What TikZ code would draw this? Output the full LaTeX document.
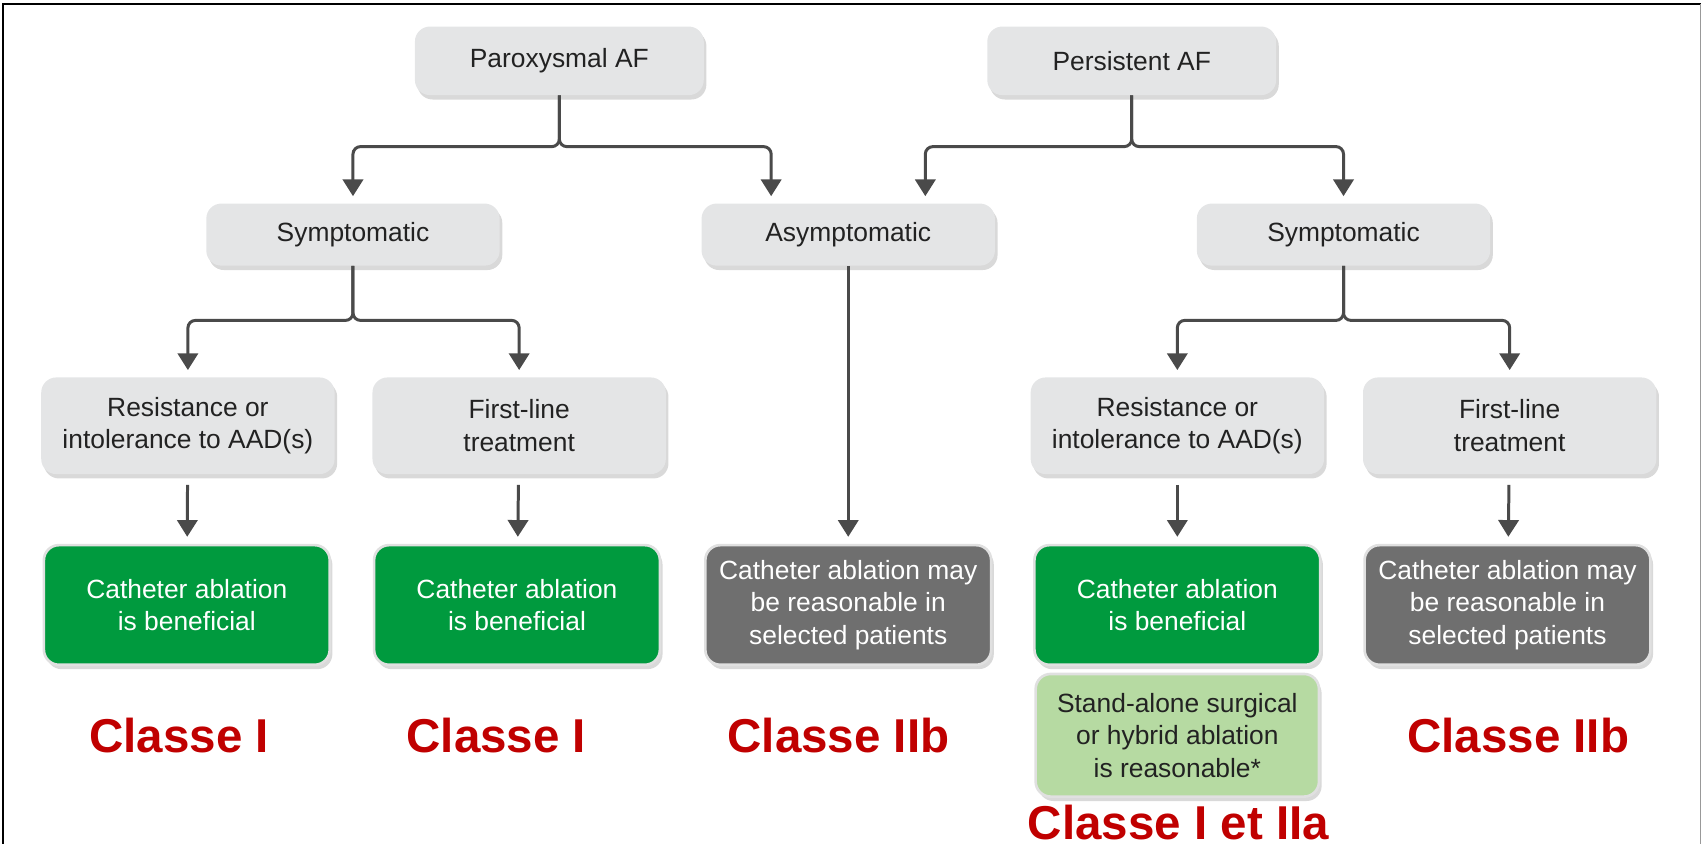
\documentclass[tikz,border=0pt]{standalone}
\usepackage{fontspec}
\setmainfont{Liberation Sans}
\usepackage{xcolor}
\usetikzlibrary{arrows.meta,shadows}

\definecolor{boxgray}{HTML}{E4E5E6}
\definecolor{darkgray}{HTML}{6F6F6F}
\definecolor{benefgreen}{HTML}{009A3E}
\definecolor{lightgreen}{HTML}{B6DAA2}
\definecolor{classred}{HTML}{C00000}
\definecolor{linegray}{HTML}{4A4A4A}
\definecolor{textdark}{HTML}{222222}

\begin{document}
\begin{tikzpicture}[x=0.0217cm,y=-0.0217cm,
  box/.style={rounded corners=0.3cm, align=center, inner sep=0pt,
    font=\fontsize{15}{18.5}\selectfont,
    drop shadow={shadow xshift=1.5pt, shadow yshift=-2.5pt, opacity=0.3, fill=black!50}},
  pale/.style={box, fill=boxgray, text=textdark},
  topbox/.style={pale, minimum width=5.77cm, minimum height=1.37cm},
  midbox/.style={pale, minimum width=5.86cm, minimum height=1.24cm},
  lowbox/.style={pale, minimum width=5.86cm, minimum height=1.93cm},
  outbox/.style={box, minimum width=5.71cm, minimum height=2.39cm, text=white,
    draw=black!12, line width=1.5pt},
  good/.style={outbox, fill=benefgreen},
  maybe/.style={outbox, fill=darkgray},
  conn/.style={draw=linegray, line width=1.7pt, rounded corners=0.15cm,
    -{Triangle[width=11.5pt,length=9.5pt]}, shorten >=4pt},
  classlbl/.style={text=classred, font=\fontsize{27}{30}\selectfont\bfseries}]

\useasboundingbox (0,0) rectangle (1568,777);
% frame
\draw[line width=1.2pt] (3,777) -- (3,4) -- (1566,4);
\draw[black!40] (1566,4) -- (1566,777);

% top row
\node[topbox] (parox) at (515,56) {Paroxysmal AF};
\node[topbox] (persist) at (1042,56) {Persistent AF};

% second row
\node[midbox] (symL) at (325,216) {Symptomatic};
\node[midbox] (asym) at (781,216) {Asymptomatic};
\node[midbox] (symR) at (1237,216) {Symptomatic};

% third row
\node[lowbox] (resL) at (173,392) {Resistance or\\intolerance to AAD(s)};
\node[lowbox] (firstL) at (478,392) {First-line\\treatment};
\node[lowbox] (resR) at (1084,392) {Resistance or\\intolerance to AAD(s)};
\node[lowbox] (firstR) at (1390,392) {First-line\\treatment};

% outcomes
\node[good] (benL) at (172,557) {Catheter ablation\\is beneficial};
\node[good] (benM) at (476,557) {Catheter ablation\\is beneficial};
\node[maybe] (mayM) at (781,557) {Catheter ablation may\\be reasonable in\\selected patients};
\node[good] (benR) at (1084,557) {Catheter ablation\\is beneficial};
\node[maybe] (mayR) at (1388,557) {Catheter ablation may\\be reasonable in\\selected patients};
\node[box, fill=lightgreen, text=textdark, draw=black!12, line width=1.5pt,
  minimum width=5.66cm, minimum height=2.45cm]
  (surg) at (1084,677) {Stand-alone surgical\\or hybrid ablation\\is reasonable*};

% classes
\node[classlbl] (clsA) at (165,677) {Classe I};
\node[classlbl] (clsB) at (457,677) {Classe I};
\node[classlbl] (clsC) at (772,677) {Classe IIb};
\node[classlbl] (clsE) at (1398,677) {Classe IIb};
\node[classlbl] (clsD) at (1085,757) {Classe I et IIa};

% forks
\coordinate (jParox) at (515,135);
\coordinate (jPersist) at (1042,135);
\coordinate (jSymL) at (325,295);
\coordinate (jSymR) at (1237,295);
\draw[conn] (parox.south) -- (jParox) -| (symL.north);
\draw[conn] (parox.south) -- (jParox) -| ([xshift=-1.54cm]asym.north);
\draw[conn] (persist.south) -- (jPersist) -| ([xshift=1.54cm]asym.north);
\draw[conn] (persist.south) -- (jPersist) -| (symR.north);
\draw[conn] (symL.south) -- (jSymL) -| (resL.north);
\draw[conn] (symL.south) -- (jSymL) -| (firstL.north);
\draw[conn] (symR.south) -- (jSymR) -| (resR.north);
\draw[conn] (symR.south) -- (jSymR) -| (firstR.north);

% straight arrows
\draw[conn, shorten <=6pt] (resL) -- (benL);
\draw[conn, shorten <=6pt] (firstL) -- (benM);
\draw[conn] (asym) -- (mayM);
\draw[conn, shorten <=6pt] (resR) -- (benR);
\draw[conn, shorten <=6pt] (firstR) -- (mayR);
\end{tikzpicture}
\end{document}
